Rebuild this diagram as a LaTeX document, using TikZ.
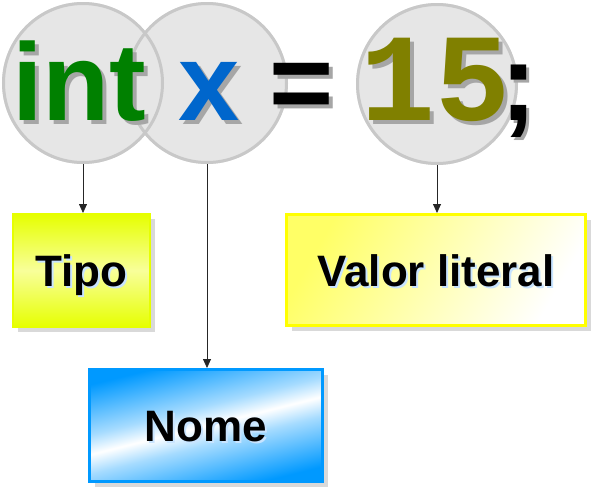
\documentclass[tikz,border=0pt]{standalone}
\usepackage{fontspec}
\setmainfont{Liberation Sans}
\newfontfamily\monofont{Liberation Mono}
\usetikzlibrary{arrows.meta,shadows}
\definecolor{circfill}{HTML}{E6E6E6}
\definecolor{circline}{HTML}{C8C8C8}
\definecolor{intgreen}{HTML}{008000}
\definecolor{xblue}{HTML}{0066CC}
\definecolor{olive15}{HTML}{808000}
\definecolor{tipoyel}{HTML}{E6FF00}
\definecolor{tipomid}{HTML}{F8FF9A}
\definecolor{valyel}{HTML}{FFFF00}
\definecolor{valfill}{HTML}{FFFF66}
\definecolor{nomeblue}{HTML}{0099FF}
\definecolor{txtshadow}{HTML}{A6A6A6}
\definecolor{lblshadow}{HTML}{C8E4FF}
\definecolor{boxshadow}{HTML}{D9D9D9}
\pgfdeclareverticalshading{nomeshade}{100bp}{color(0bp)=(nomeblue); color(25bp)=(nomeblue); color(43bp)=(nomeblue!35); color(50bp)=(white); color(57bp)=(nomeblue!35); color(75bp)=(nomeblue); color(100bp)=(nomeblue)}
\newcommand\shtxt[4]{\makebox[0pt][l]{\hspace*{#1}\raisebox{-#1}{\textcolor{#2}{#4}}}\textcolor{#3}{#4}}
\tikzset{
  circ/.style={circle, fill=circfill, minimum size=162pt, inner sep=0pt},
  ring/.style={draw=circline, line width=3pt},
  bigtxt/.style={inner sep=0pt, anchor=base west, font=\bfseries\fontsize{110}{110}\selectfont},
  lbl/.style={font=\bfseries\fontsize{44}{44}\selectfont, text height=32pt, text depth=0pt, inner sep=0pt},
  boxshad/.style={drop shadow={shadow xshift=5pt, shadow yshift=-5pt, fill=boxshadow, opacity=1}},
  arr/.style={draw=black!85, line width=0.8pt, -{Triangle[length=9pt,width=8pt]}}
}
\begin{document}
\begin{tikzpicture}[x=1pt,y=-1pt]
\useasboundingbox (0,0) rectangle (593,488);
% circles
\node[circ] (cint) at (83,83) {};
\node[circ] (cx) at (207,83) {};
\node[circ] (c15) at (437,84) {};
\foreach \c in {cx,cint,c15} \draw[ring] (\c.center) circle[radius=79.5pt];
% code text
\node[bigtxt] (tint) at (12,120) {\shtxt{4pt}{txtshadow}{intgreen}{int}};
\node[bigtxt] (tx) at (178,120) {\shtxt{4pt}{txtshadow}{xblue}{x}};
\node[bigtxt, anchor=base] (teq) at (302,120) {\shtxt{4pt}{txtshadow}{black}{=}};
\node[bigtxt, font=\monofont\bfseries\fontsize{125}{125}\selectfont] (t15) at (360,120) {\shtxt{4pt}{txtshadow}{olive15}{15}};
\node[bigtxt] (tsemi) at (500,120) {\shtxt{3pt}{txtshadow}{black}{;}};
% boxes
\node[lbl, boxshad, draw=tipoyel, line width=2pt, top color=tipoyel, bottom color=tipoyel, middle color=tipomid,
      minimum width=137pt, minimum height=113pt] (tipo) at (81.5,270.5) {\shtxt{2pt}{lblshadow}{black}{Tipo}};
\node[lbl, boxshad, draw=valyel, line width=3pt, left color=valfill, right color=white, shading angle=60,
      minimum width=299pt, minimum height=111pt] (valor) at (436,270) {\shtxt{2pt}{lblshadow}{black}{Valor literal}};
\node[lbl, boxshad, draw=nomeblue, line width=3pt, shading=nomeshade, shading angle=14,
      minimum width=233pt, minimum height=112pt] (nome) at (206,425.5) {\shtxt{2pt}{lblshadow}{black}{Nome}};
% connectors
\draw[arr] (cint.south) -- (cint.south |- tipo.north);
\draw[arr] (cx.south) -- (cx.south |- nome.north);
\draw[arr] (c15.south) -- (c15.south |- valor.north);
\end{tikzpicture}
\end{document}
